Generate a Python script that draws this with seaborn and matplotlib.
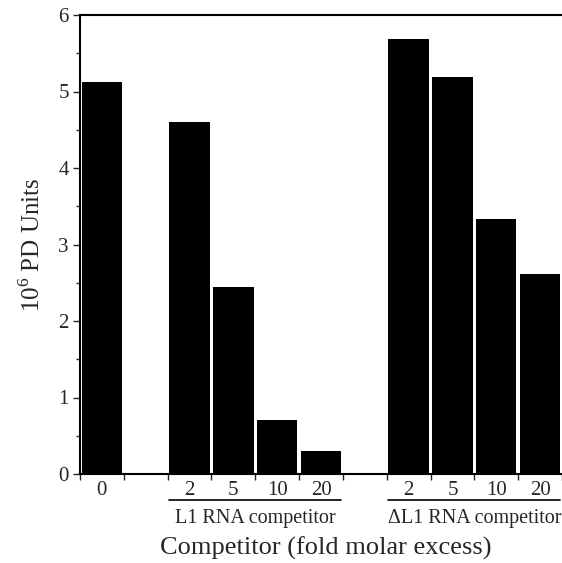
import numpy as np
import pandas as pd
import matplotlib
matplotlib.use("Agg")
import matplotlib.pyplot as plt
import matplotlib.transforms as mtransforms
import seaborn as sns

# values (10^6 PD units)
control_doses = ["0"]
control_values = [5.13]
l1_doses = ["2", "5", "10", "20"]
l1_values = [4.60, 2.45, 0.71, 0.30]
dl1_doses = ["2", "5", "10", "20"]
dl1_values = [5.69, 5.19, 3.33, 2.62]
group_names = ["L1 RNA competitor", "\u0394L1 RNA competitor"]

# slot order, with empty slots between groups
order = (["c0"] + ["gap1"] + ["L1_" + d for d in l1_doses]
         + ["gap2"] + ["dL1_" + d for d in dl1_doses])
tick_labels = control_doses + [""] + l1_doses + [""] + dl1_doses

df = pd.DataFrame({
    "slot": ["c0"] + ["L1_" + d for d in l1_doses] + ["dL1_" + d for d in dl1_doses],
    "value": control_values + l1_values + dl1_values,
})

sns.set_style("ticks")
plt.rcParams["font.family"] = ["Liberation Serif", "DejaVu Serif"]
plt.rcParams["mathtext.fontset"] = "custom"
plt.rcParams["mathtext.rm"] = "Liberation Serif"

fig = plt.figure(figsize=(5.62, 5.63), dpi=100)
ax = fig.add_axes([80 / 562, 1 - 474 / 563, 1 - 80 / 562, (474 - 15) / 563])

sns.barplot(data=df, x="slot", y="value", order=order, color="black",
            width=0.92, linewidth=0, saturation=1, ax=ax)

ax.set_xlim(-0.5, 10.33)
ax.set_ylim(0, 6)
ax.set_yticks(np.arange(0, 7, 1))
ax.set_yticks(np.arange(0.5, 6, 1), minor=True)
ax.set_xticks(range(len(order)))
ax.set_xticklabels(tick_labels, fontsize=15)
ax.set_xticks(np.arange(-0.5, len(order), 1), minor=True)
ax.tick_params(axis="x", which="major", length=0, pad=5)
ax.tick_params(axis="x", which="minor", length=4, width=1, direction="out")
ax.tick_params(axis="y", which="major", length=5, width=1, labelsize=15, pad=3)
ax.tick_params(axis="y", which="minor", length=3, width=1)

for s in ["left", "bottom", "top"]:
    ax.spines[s].set_color("black")
    ax.spines[s].set_linewidth(1.5)
ax.spines["right"].set_visible(False)

# group underlines and labels
trans = mtransforms.blended_transform_factory(ax.transData, ax.transAxes)
for start, name in [(2, group_names[0]), (7, group_names[1])]:
    ax.plot([start - 0.46, start + 3.46], [-0.057, -0.057], color="black",
            lw=1.2, transform=trans, clip_on=False)
    ax.text(start + 1.5, -0.097, name, transform=trans, ha="center", va="center",
            fontsize=14.5, clip_on=False)

ax.set_xlabel("")
fig.text(0.58, 1 - 548 / 563, "Competitor (fold molar excess)", ha="center",
         va="center", fontsize=19)
ax.set_ylabel("10$^{\\mathregular{6}}$ PD Units", fontsize=18, labelpad=10)

fig.savefig("out.png", dpi=100)
